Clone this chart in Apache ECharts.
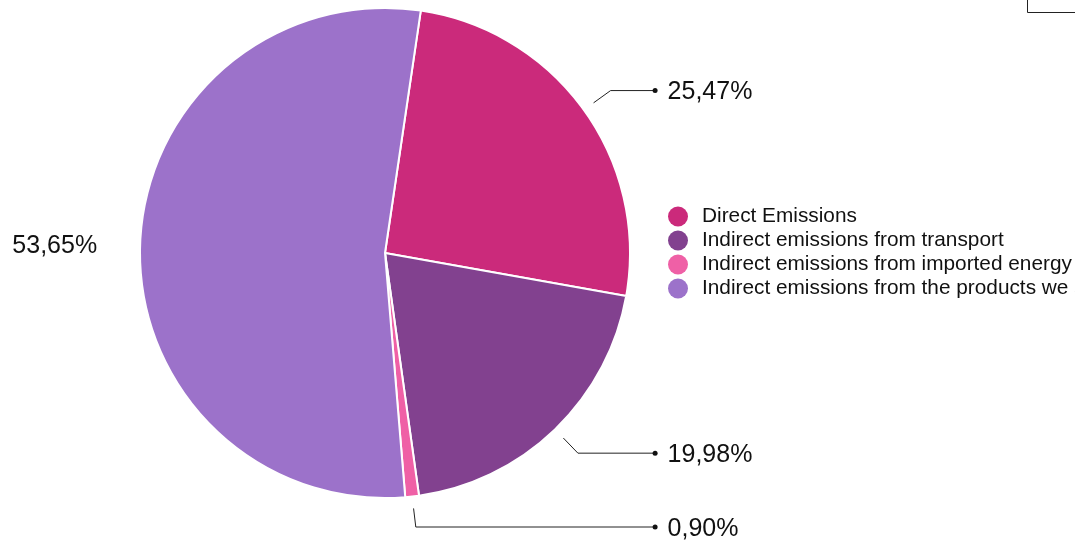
<!DOCTYPE html>
<html>
<head>
<meta charset="utf-8">
<script src="https://cdn.jsdelivr.net/npm/echarts@6/dist/echarts.min.js"></script>
<style>
  html, body { margin: 0; padding: 0; background: #ffffff; }
  #chart { width: 1075px; height: 540px; }
</style>
</head>
<body>
<div id="chart"></div>
<script>
// Emission categories and their shares (percent of total)
var categories = [
  'Direct Emissions',
  'Indirect emissions from transport',
  'Indirect emissions from imported energy',
  'Indirect emissions from the products we sell'
];
var shares = [25.47, 19.98, 0.90, 53.65];
var colors = ['#cb2a7b', '#82418f', '#ef60a6', '#9c72ca'];

var FONT = '"Liberation Sans", Arial, Helvetica, sans-serif';

// pie geometry
var CX = 385, CY = 253, R = 245;
var START_ANGLE = 81.6;          // degrees, ECharts convention (90 = 12 o'clock)
var LINE_LEN = 33, LINE_LEN2 = 42;
var CHART_H = 540;

function fmtPercent(v) {
  return v.toFixed(2).replace('.', ',') + '%';
}

// x where all right-hand leader lines end: the farthest bend plus the second segment
var labelColumnX = (function () {
  var total = shares.reduce(function (s, v) { return s + v; }, 0);
  var acc = 0, maxX = -Infinity;
  shares.forEach(function (v, i) {
    var midDeg = (90 - START_ANGLE) + (acc + v / 2) / total * 360; // clockwise from top
    acc += v;
    var sx = Math.sin(midDeg * Math.PI / 180);
    if (sx > 0 && i !== 3) {
      maxX = Math.max(maxX, CX + (R + LINE_LEN) * sx);
    }
  });
  return maxX + LINE_LEN2;
})();

var data = categories.map(function (name, i) {
  var item = { name: name, value: shares[i], itemStyle: { color: colors[i] } };
  if (i === 3) {
    // the large slice carries its label on the left, without a leader line
    item.labelLine = { show: false, length: 30, length2: 13 };
  }
  return item;
});

var chart = echarts.init(document.getElementById('chart'), null, { renderer: 'canvas' });

chart.setOption({
  animation: false,
  backgroundColor: '#ffffff',
  legend: {
    orient: 'vertical',
    left: 668,
    top: 206,
    padding: 0,
    icon: 'circle',
    itemWidth: 20,
    itemHeight: 20,
    itemGap: 3,
    selectedMode: false,
    itemStyle: { borderWidth: 0 },
    textStyle: {
      fontFamily: FONT,
      fontSize: 20.8,
      color: '#111111',
      padding: [0, 0, 0, 9]
    },
    data: categories
  },
  graphic: [{
    type: 'rect',
    shape: { x: 1027.5, y: -5, width: 60, height: 17.5 },
    style: { fill: 'none', stroke: '#222222', lineWidth: 1 },
    silent: true
  }],
  series: [{
    type: 'pie',
    center: [CX, CY],
    radius: R,
    startAngle: START_ANGLE,
    clockwise: true,
    avoidLabelOverlap: false,
    itemStyle: { borderColor: '#ffffff', borderWidth: 2 },
    label: {
      show: true,
      position: 'outside',
      distanceToLabelLine: 0,
      color: '#111111',
      fontFamily: FONT,
      fontSize: 25,
      formatter: function (p) {
        var txt = fmtPercent(p.value);
        if (p.dataIndex === 3) return '{v|' + txt + '}';
        return '{d| }{g| }{v|' + txt + '}';
      },
      rich: {
        d: { width: 5, height: 5, borderRadius: 2.5, backgroundColor: '#111111', verticalAlign: 'middle' },
        g: { width: 10 },
        v: { fontFamily: FONT, fontSize: 25, color: '#111111', padding: [4, 0, 0, 0] }
      }
    },
    labelLine: {
      show: true,
      length: LINE_LEN,
      length2: LINE_LEN2,
      smooth: false,
      lineStyle: { color: '#222222', width: 1 }
    },
    labelLayout: function (p) {
      var pts = p.labelLinePoints;
      if (!pts || pts.length < 3 || p.dataIndex === 3) return {};
      // keep labels inside the bottom of the canvas
      var y = Math.min(pts[1][1], CHART_H - 13);
      pts[1] = [pts[1][0], y];
      // leave a small gap between the slice edge and the start of the leader line
      var a = pts[0], b = pts[1];
      var dx = b[0] - a[0], dy = b[1] - a[1];
      var len = Math.sqrt(dx * dx + dy * dy);
      var gap = 12;
      if (len > gap) {
        pts[0] = [a[0] + dx / len * gap, a[1] + dy / len * gap];
      }
      // extend the horizontal segment to the shared label column,
      // running into the centre of the end dot
      pts[2] = [labelColumnX + 2.5, y];
      return { x: labelColumnX, y: y, labelLinePoints: pts };
    },
    data: data
  }]
});
</script>
</body>
</html>
